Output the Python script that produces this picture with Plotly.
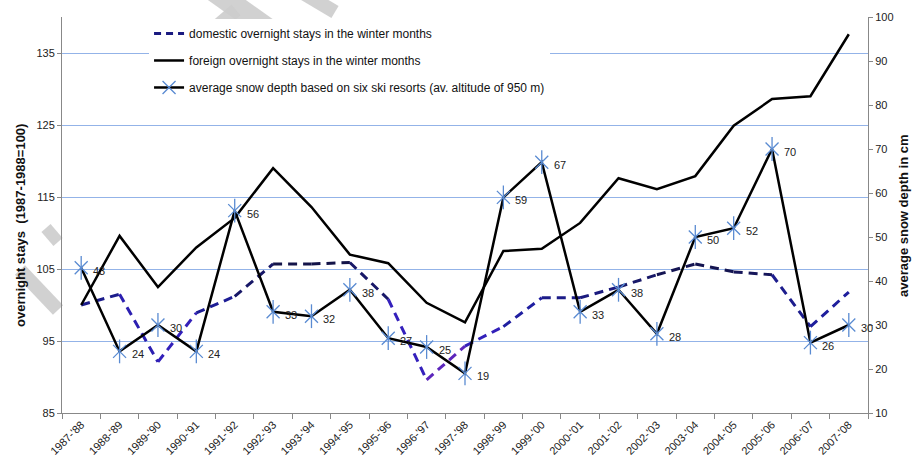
import plotly.graph_objects as go

seasons = ["1987-'88", "1988-'89", "1989-'90", "1990-'91", "1991-'92", "1992-'93", "1993-'94",
           "1994-'95", "1995-'96", "1996-'97", "1997-'98", "1998-'99", "1999-'00", "2000-'01",
           "2001-'02", "2002-'03", "2003-'04", "2004-'05", "2005-'06", "2006-'07", "2007-'08"]
domestic = [100.0, 101.5, 92.1, 98.9, 101.2, 105.7, 105.7, 105.9, 100.8, 89.6, 94.3,
            97.0, 101.0, 101.0, 102.5, 104.2, 105.7, 104.6, 104.2, 97.0, 101.8]
foreign = [100.0, 109.6, 102.5, 108.0, 112.1, 119.0, 113.6, 107.0, 105.8, 100.3, 97.6,
           107.5, 107.8, 111.4, 117.6, 116.1, 117.9, 124.9, 128.6, 129.0, 137.6]
snow = [43, 24, 30, 24, 56, 33, 32, 38, 27, 25, 19, 59, 67, 33, 38, 28, 50, 52, 70, 26, 30]

left_ticks = [85, 95, 105, 115, 125, 135]
right_ticks = [10, 20, 30, 40, 50, 60, 70, 80, 90, 100]

name_dom = "domestic overnight stays in the winter months"
name_for = "foreign overnight stays in the winter months"
name_snow = "average snow depth based on six ski resorts (av. altitude of 950 m)"

scale = [(0.0, (138, 47, 176)), (0.3, (58, 32, 196)), (0.6, (31, 31, 160)), (1.0, (19, 19, 69))]

def seg_color(v):
    t = (v - 89.0) / (106.0 - 89.0)
    t = min(max(t, 0.0), 1.0)
    for (a, ca), (b, cb) in zip(scale[:-1], scale[1:]):
        if a <= t <= b:
            f = (t - a) / (b - a)
            c = [round(ca[k] + (cb[k] - ca[k]) * f) for k in range(3)]
            return "rgb(%d,%d,%d)" % tuple(c)
    return "rgb(19,19,69)"

MARK = "#5a8bd2"

fig = go.Figure()

# domestic dashed line, segment-coloured (gradient effect)
for i in range(len(seasons) - 1):
    m = (domestic[i] + domestic[i + 1]) / 2
    fig.add_trace(go.Scatter(
        x=seasons[i:i + 2], y=domestic[i:i + 2], mode="lines",
        line=dict(color=seg_color(m), width=3, dash="9px,6px"),
        showlegend=False, hoverinfo="skip", legendgroup="dom"))
fig.add_trace(go.Scatter(
    x=[None], y=[None], mode="lines", name=name_dom,
    line=dict(color="#1a1a80", width=3, dash="7px,5px"), legendgroup="dom"))

fig.add_trace(go.Scatter(
    x=seasons, y=foreign, mode="lines", name=name_for,
    line=dict(color="#000000", width=2.5), legendgroup="for"))

fig.add_trace(go.Scatter(
    x=seasons, y=snow, mode="lines+markers", name=name_snow, yaxis="y2",
    line=dict(color="#000000", width=2.5),
    marker=dict(symbol="x-thin-open", size=13, color=MARK,
                line=dict(color=MARK, width=1.3)),
    legendgroup="snow"))
fig.add_trace(go.Scatter(
    x=seasons, y=snow, mode="markers", yaxis="y2", showlegend=False,
    hoverinfo="skip", legendgroup="snow",
    marker=dict(symbol="line-ns-open", size=17, color=MARK,
                line=dict(color=MARK, width=1.3))))

for s, v in zip(seasons, snow):
    fig.add_annotation(x=s, y=v, yref="y2", text=str(v), showarrow=False,
                       xanchor="left", xshift=10, yshift=-3,
                       font=dict(size=11, color="#222222"))

# axis titles
fig.add_annotation(xref="paper", yref="paper", x=1 + (903 - 868) / 806, y=(413 - 215) / 396,
                   text="<b>average snow depth in cm</b>", textangle=-90,
                   showarrow=False, xanchor="center", yanchor="middle",
                   font=dict(size=13, color="#111111"))
fig.add_annotation(xref="paper", yref="paper", x=(20 - 62) / 806, y=(413 - 226) / 396,
                   text="<b>overnight stays  (1987-1988=100)</b>", textangle=-90,
                   showarrow=False, xanchor="center", yanchor="middle",
                   font=dict(size=13, color="#111111"))

# watermark fragments (decorative)
wm = "rgba(204,204,204,0.9)"
for (x0, y0, x1, y1, w) in [(210, -12, 300, 52, 22), (180, 58, 236, 10, 14),
                             (298, -10, 335, 12, 14), (20, 270, 58, 310, 14),
                             (46, 228, 58, 242, 12)]:
    fig.add_shape(type="line", xref="paper", yref="paper", layer="below",
                  x0=(x0 - 62) / 806, x1=(x1 - 62) / 806,
                  y0=(413 - y0) / 396, y1=(413 - y1) / 396,
                  line=dict(color=wm, width=w))

fig.update_layout(
    width=917, height=466,
    margin=dict(l=62, r=49, t=17, b=53, autoexpand=False),
    paper_bgcolor="white", plot_bgcolor="rgba(0,0,0,0)",
    font=dict(family="Liberation Sans, Arial, sans-serif", size=11, color="#222222"),
    showlegend=True,
    legend=dict(x=0.108, y=0.995, xanchor="left", yanchor="top",
                bgcolor="white", font=dict(size=12, color="#111111"),
                tracegroupgap=8, itemwidth=30),
    xaxis=dict(type="category", tickangle=-45, tickson="boundaries",
               ticks="outside", ticklen=5, tickcolor="#888888",
               showline=True, linecolor="#888888", linewidth=1,
               showgrid=False, tickfont=dict(size=11, color="#222222"),
               range=[-0.5, len(seasons) - 0.5], automargin=False),
    yaxis=dict(range=[85, 140], tickvals=left_ticks, ticks="outside", ticklen=4,
               tickcolor="#888888", showline=True, linecolor="#888888",
               showgrid=True, gridcolor="#93b3e8", gridwidth=1, zeroline=False,
               automargin=False),
    yaxis2=dict(range=[10, 100], tickvals=right_ticks, overlaying="y", side="right",
                ticks="outside", ticklen=4, tickcolor="#888888", showline=True,
                linecolor="#888888", showgrid=False, zeroline=False,
                automargin=False),
)

fig.write_html("out.html", config={"displayModeBar": False},
               post_script="document.body.style.margin='0';document.body.style.padding='0';")
